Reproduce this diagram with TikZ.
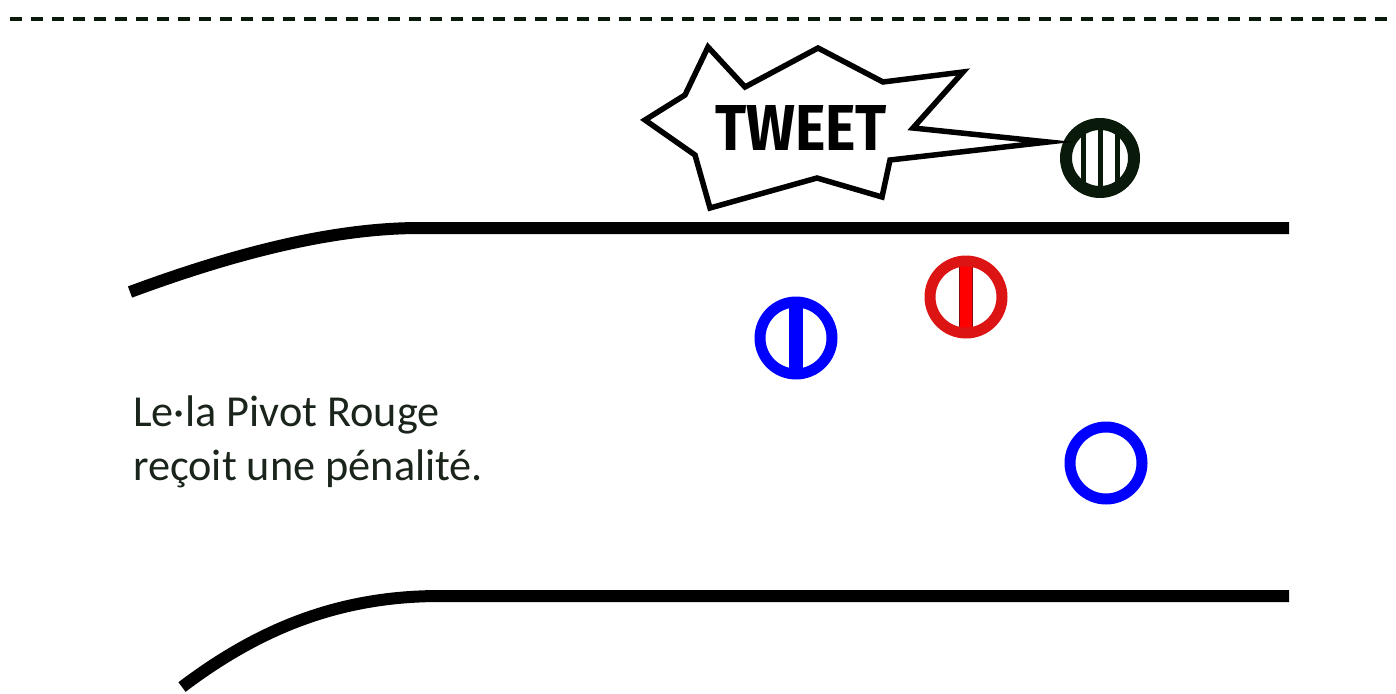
\documentclass[tikz,border=0pt]{standalone}
\usepackage{fontspec}
\setmainfont{Carlito}
\newfontfamily\tweetfont{Fira Sans}
\usetikzlibrary{positioning}

\definecolor{refdark}{HTML}{0A1A0A}
\definecolor{ringred}{HTML}{DD1414}
\definecolor{textdark}{HTML}{1A241A}

\begin{document}
\begin{tikzpicture}[
  x=0.02cm, y=-0.02cm,
  track/.style={line width=0.24cm, line cap=butt},
  player/.style={circle, draw, fill=white, line width=0.22cm, minimum size=1.44cm, inner sep=0pt},
  blocker/.style={player, draw=blue},
  pivot/.style={player, draw=blue,
    path picture={\fill[blue] ([xshift=-0.14cm]path picture bounding box.south) rectangle ([xshift=0.14cm]path picture bounding box.north);}},
  redpivot/.style={player, draw=ringred,
    path picture={\filldraw[red, draw=ringred!60!black, line width=0.02cm] ([xshift=-0.13cm]path picture bounding box.south) rectangle ([xshift=0.13cm]path picture bounding box.north);}},
  referee/.style={player, draw=refdark, line width=0.24cm, minimum size=1.36cm,
    path picture={\foreach \dx in {-0.34,0,0.34}
      \fill[refdark] ([xshift=\dx cm-0.05cm]path picture bounding box.south) rectangle ([xshift=\dx cm+0.05cm]path picture bounding box.north);}},
  note/.style={align=left, font=\fontsize{25.2}{31}\selectfont, text=textdark, inner sep=0pt}
]
\useasboundingbox (0,0) rectangle (1396,693);

% dashed separator
\draw[refdark, line width=0.08cm, dash pattern=on 0.24cm off 0.18cm] (10,19) -- (1396,19);

% track boundaries
\draw[track] (130,292) .. controls (230,255) and (330,228) .. (420,228) -- (1289,228);
\draw[track] (182,687) .. controls (260,628) and (340,596) .. (440,596) -- (1289,596);

% skaters
\node[pivot] (bluepivot) at (796,338) {};
\node[redpivot] (redpiv) at (966,297) {};
\node[blocker] (blueblocker) at (1106,463) {};
\node[referee] (ref) at (1100,158) {};

% whistle bubble
\draw[line width=0.11cm, line join=miter, fill=white]
  (708,47) -- (745,87) -- (818,48) -- (883,82) -- (963,72) -- (913,128)
  -- (1048,142) -- (890,160) -- (882,197) -- (817,178) -- (710,208)
  -- (695,155) -- (645,120) -- (685,95) -- cycle;
\node[inner sep=0pt] (tweet) at (801,128)
  {\resizebox{3.44cm}{0.9cm}{\tweetfont\bfseries TWEET}};

% caption
\node[note, anchor=north west] (caption) at (133,395)
  {Le·la Pivot Rouge\\reçoit une pénalité.};
\end{tikzpicture}
\end{document}
